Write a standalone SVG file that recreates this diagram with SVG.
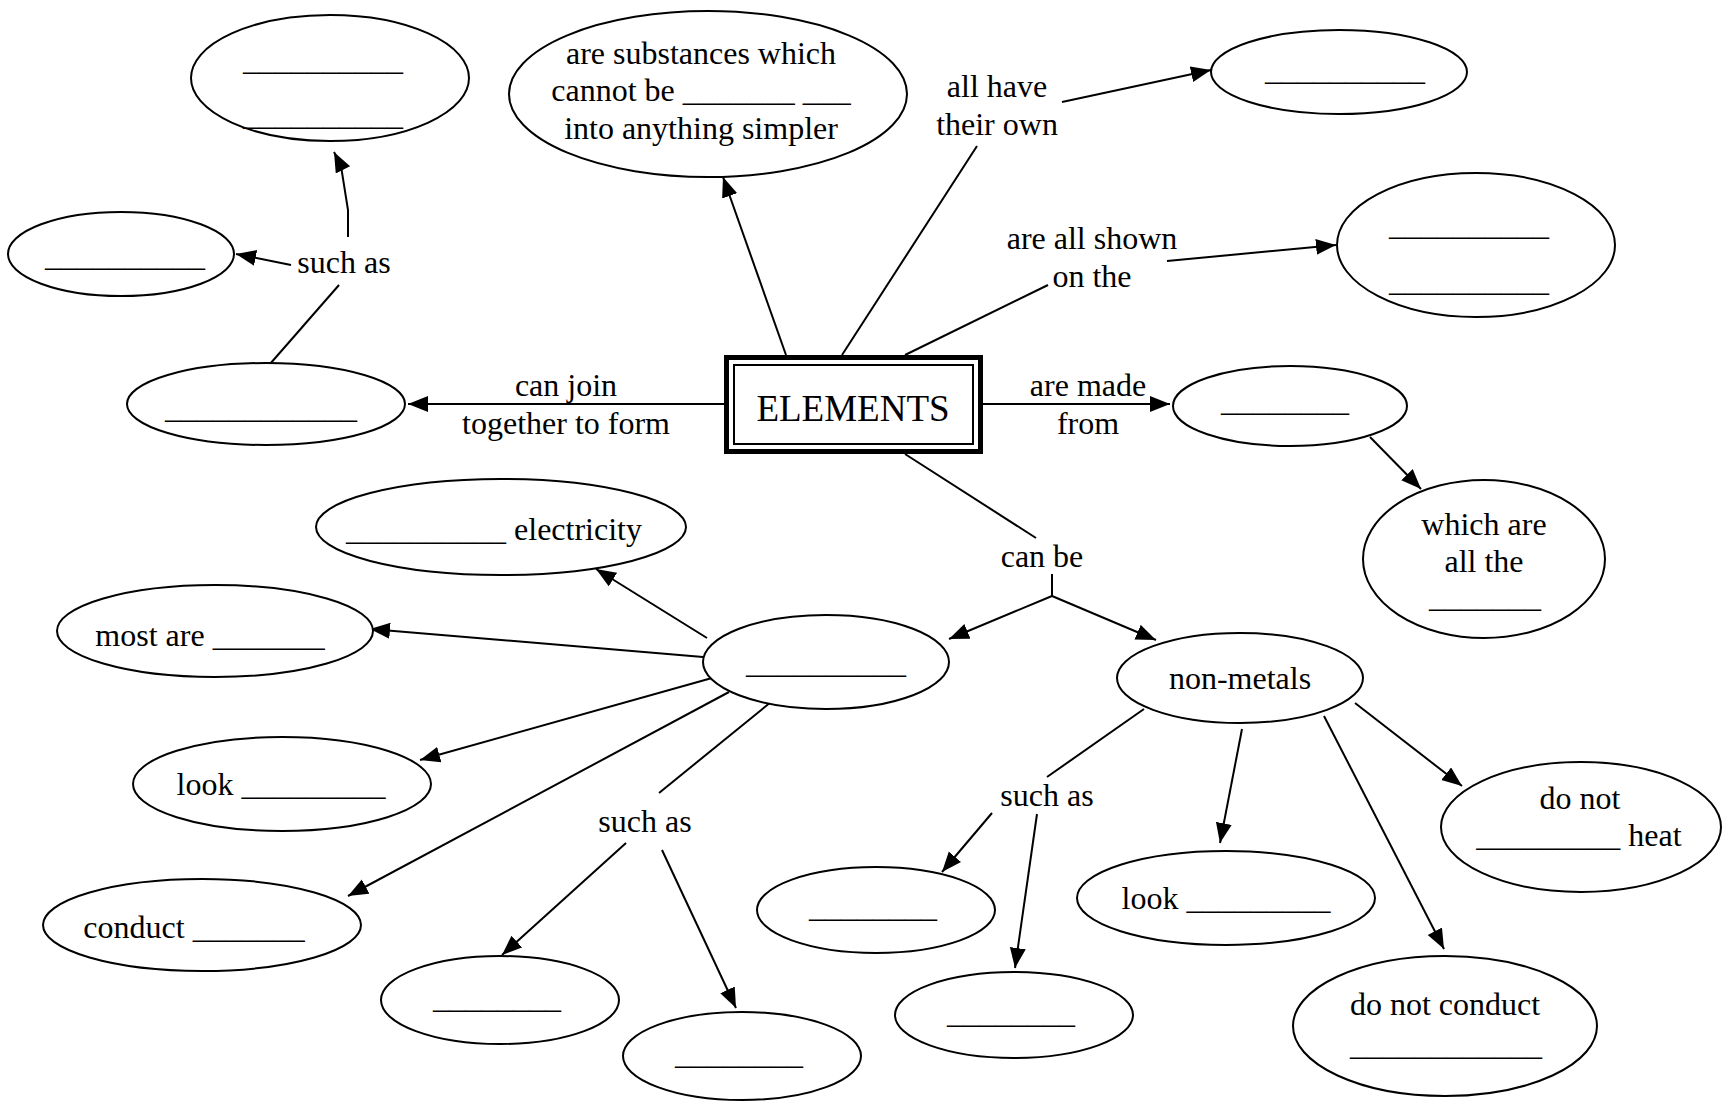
<svg xmlns="http://www.w3.org/2000/svg" width="1731" height="1104" viewBox="0 0 1731 1104">
<defs>
<style>
.n{fill:#fff;stroke:#000;stroke-width:2}
text{font-family:"Liberation Serif","Times New Roman",serif;font-size:32px;fill:#000;text-anchor:middle}
.c line,.c polyline{stroke:#000;stroke-width:2;fill:none}
.a{marker-end:url(#ah)}
</style>
<marker id="ah" markerUnits="userSpaceOnUse" markerWidth="21" markerHeight="17" refX="20" refY="8" orient="auto">
<path d="M0,0 L20,8 L0,16 z" fill="#000"/>
</marker>
</defs>
<rect width="1731" height="1104" fill="#fff"/>

<g class="c" id="connectors">
<line class="a" x1="786" y1="355" x2="723" y2="177"/>
<line x1="842" y1="355" x2="977" y2="146"/>
<line class="a" x1="1062" y1="102" x2="1211" y2="70"/>
<line x1="905" y1="355" x2="1048" y2="285"/>
<line class="a" x1="1167" y1="261" x2="1336" y2="245"/>
<line class="a" x1="983" y1="404" x2="1170" y2="404"/>
<line class="a" x1="1370" y1="437" x2="1421" y2="489"/>
<line class="a" x1="724" y1="404" x2="408" y2="404"/>
<line x1="270" y1="364" x2="339" y2="285"/>
<line class="a" x1="291" y1="265" x2="236" y2="254"/>
<polyline class="a" points="348,237 348,210 341,166 334,152"/>
<line x1="905" y1="454" x2="1036" y2="538"/>
<polyline points="1052,574 1052,596"/>
<line class="a" x1="1052" y1="596" x2="949" y2="639"/>
<line class="a" x1="1052" y1="596" x2="1156" y2="640"/>
<line class="a" x1="707" y1="638" x2="596" y2="569"/>
<line class="a" x1="703" y1="657" x2="370" y2="629"/>
<line class="a" x1="712" y1="678" x2="420" y2="760"/>
<line class="a" x1="729" y1="692" x2="348" y2="896"/>
<line x1="771" y1="702" x2="659" y2="793"/>
<line class="a" x1="626" y1="843" x2="502" y2="955"/>
<line class="a" x1="662" y1="850" x2="736" y2="1008"/>
<line x1="1144" y1="709" x2="1047" y2="777"/>
<line class="a" x1="992" y1="813" x2="942" y2="872"/>
<line class="a" x1="1037" y1="814" x2="1015" y2="968"/>
<line class="a" x1="1242" y1="729" x2="1220" y2="843"/>
<line class="a" x1="1355" y1="703" x2="1462" y2="786"/>
<line class="a" x1="1324" y1="716" x2="1444" y2="949"/>
</g>

<g id="labels">
<text x="566" y="396">can join</text>
<text x="566" y="434">together to form</text>
<text x="997" y="97">all have</text>
<text x="997" y="135">their own</text>
<text x="1092" y="249">are all shown</text>
<text x="1092" y="287">on the</text>
<text x="1088" y="396">are made</text>
<text x="1088" y="434">from</text>
<text x="1042" y="567">can be</text>
<text x="344" y="273">such as</text>
<text x="645" y="832">such as</text>
<text x="1047" y="806">such as</text>
</g>

<g id="elements">
<rect x="726.5" y="357.5" width="254" height="94" fill="#fff" stroke="#000" stroke-width="5"/>
<rect x="734" y="365" width="239" height="79" fill="none" stroke="#000" stroke-width="2"/>
<text x="853" y="421" style="font-size:37px">ELEMENTS</text>
</g>

<g id="n-substances">
<ellipse class="n" cx="708" cy="94" rx="199" ry="83"/>
<text x="701" y="64">are substances which</text>
<text x="701" y="101">cannot be _______ ___</text>
<text x="701" y="139">into anything simpler</text>
</g>
<g id="n-tl">
<ellipse class="n" cx="330" cy="78" rx="139" ry="63"/>
<text x="323" y="70">__________</text>
<text x="323" y="125">__________</text>
</g>
<g id="n-left">
<ellipse class="n" cx="121" cy="254" rx="113" ry="42"/>
<text x="125" y="266">__________</text>
</g>
<g id="n-compound">
<ellipse class="n" cx="266" cy="404" rx="139" ry="41"/>
<text x="261" y="418">____________</text>
</g>
<g id="n-own">
<ellipse class="n" cx="1339" cy="72" rx="128" ry="42"/>
<text x="1345" y="80">__________</text>
</g>
<g id="n-table">
<ellipse class="n" cx="1476" cy="245" rx="139" ry="72"/>
<text x="1469" y="235">__________</text>
<text x="1469" y="291">__________</text>
</g>
<g id="n-made">
<ellipse class="n" cx="1290" cy="406" rx="117" ry="40"/>
<text x="1285" y="411">________</text>
</g>
<g id="n-which">
<ellipse class="n" cx="1484" cy="559" rx="121" ry="79"/>
<text x="1484" y="535">which are</text>
<text x="1484" y="572">all the</text>
<text x="1485" y="607">_______</text>
</g>
<g id="n-metals">
<ellipse class="n" cx="826" cy="662" rx="123" ry="47"/>
<text x="826" y="673">__________</text>
</g>
<g id="n-nonmetals">
<ellipse class="n" cx="1240" cy="678" rx="123" ry="45"/>
<text x="1240" y="689">non-metals</text>
</g>
<g id="n-electricity">
<ellipse class="n" cx="501" cy="527" rx="185" ry="48"/>
<text x="494" y="540">__________ electricity</text>
</g>
<g id="n-mostare">
<ellipse class="n" cx="215" cy="631" rx="158" ry="46"/>
<text x="210" y="646">most are _______</text>
</g>
<g id="n-look1">
<ellipse class="n" cx="282" cy="784" rx="149" ry="47"/>
<text x="281" y="795">look _________</text>
</g>
<g id="n-conduct">
<ellipse class="n" cx="202" cy="925" rx="159" ry="46"/>
<text x="194" y="938">conduct _______</text>
</g>
<g id="n-mex1">
<ellipse class="n" cx="500" cy="1000" rx="119" ry="44"/>
<text x="497" y="1008">________</text>
</g>
<g id="n-mex2">
<ellipse class="n" cx="742" cy="1056" rx="119" ry="44"/>
<text x="739" y="1064">________</text>
</g>
<g id="n-nex1">
<ellipse class="n" cx="876" cy="910" rx="119" ry="43"/>
<text x="873" y="917">________</text>
</g>
<g id="n-nex2">
<ellipse class="n" cx="1014" cy="1015" rx="119" ry="43"/>
<text x="1011" y="1023">________</text>
</g>
<g id="n-look2">
<ellipse class="n" cx="1226" cy="898" rx="149" ry="47"/>
<text x="1226" y="909">look _________</text>
</g>
<g id="n-heat">
<ellipse class="n" cx="1581" cy="827" rx="140" ry="65"/>
<text x="1580" y="809">do not</text>
<text x="1579" y="846">_________ heat</text>
</g>
<g id="n-noconduct">
<ellipse class="n" cx="1445" cy="1026" rx="152" ry="70"/>
<text x="1445" y="1015">do not conduct</text>
<text x="1446" y="1055">____________</text>
</g>
</svg>
